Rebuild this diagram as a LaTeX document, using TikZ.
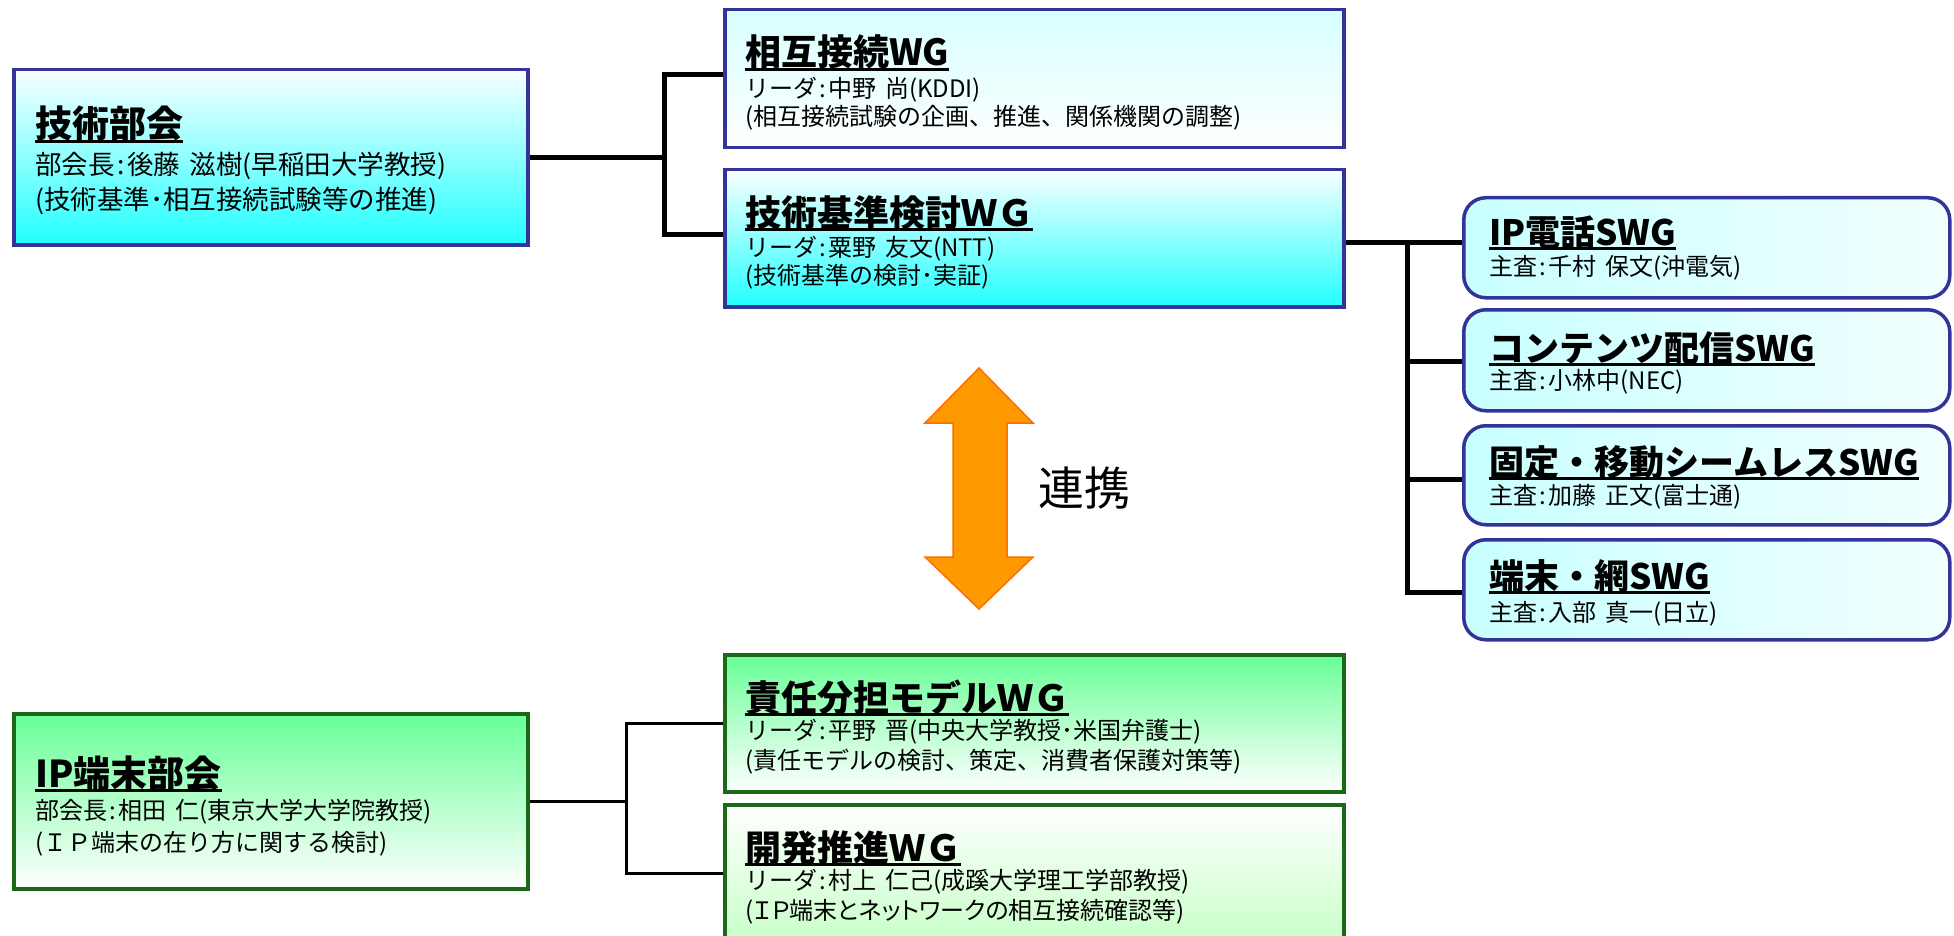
\documentclass[tikz,border=0pt]{standalone}
\usepackage{fontspec}
\newfontfamily\jp{Noto Sans CJK JP}
\newcommand\jcol{\hspace{.1em}:\hspace{.1em}}
\newcommand\jgap{\hspace{.35em}}
\definecolor{bordblue}{RGB}{51,51,153}
\definecolor{bordgreen}{RGB}{25,105,25}
\definecolor{cyanbot}{RGB}{34,255,255}
\definecolor{cyanmid}{RGB}{190,255,255}
\definecolor{cyantop}{RGB}{248,255,255}
\definecolor{cyanlight}{RGB}{215,255,255}
\definecolor{swgl}{RGB}{200,255,255}
\definecolor{swgr}{RGB}{242,255,255}
\definecolor{greentop}{RGB}{104,255,150}
\definecolor{greenmid}{RGB}{190,255,205}
\definecolor{greenlight}{RGB}{200,255,200}
\definecolor{arrfill}{RGB}{255,153,0}
\definecolor{arrline}{RGB}{255,110,0}
\tikzset{
  box/.style={rectangle, draw=bordblue, line width=3.5pt, inner sep=0pt, anchor=north west},
  cybox/.style={box, top color=cyantop, middle color=cyanmid, bottom color=cyanbot},
  lcybox/.style={box, top color=cyanlight, bottom color=white},
  gbox/.style={box, draw=bordgreen, top color=greentop, middle color=greenmid, bottom color=white},
  wgbox/.style={box, draw=bordgreen, top color=white, bottom color=greenlight},
  swgbox/.style={rectangle, draw=bordblue, line width=3.5pt, rounded corners=22pt, inner sep=0pt,
    anchor=north west, left color=swgl, right color=swgr, minimum width=486pt},
  ttlbase/.style={anchor=base west, inner sep=0pt},
  ttlA/.style={ttlbase, font=\jp\bfseries\fontsize{37}{40}\selectfont},
  ttl/.style={ttlbase, font=\jp\bfseries\fontsize{36}{40}\selectfont},
  ttlS/.style={ttlbase, font=\jp\bfseries\fontsize{35}{40}\selectfont},
  bodyA/.style={anchor=west, inner sep=0pt, font=\jp\fontsize{26.5}{30}\selectfont},
  body/.style={anchor=west, inner sep=0pt, font=\jp\fontsize{24}{28}\selectfont},
  uline/.style={line width=2.5pt},
  conn/.style={line width=5pt},
  connb/.style={line width=3.5pt},
}
\newcommand\uline[1]{\draw[uline] ([yshift=-3.5pt]#1.base west) -- ([yshift=-3.5pt]#1.base east);}
\begin{document}
\begin{tikzpicture}[x=1pt,y=-1pt]
\useasboundingbox (0,0) rectangle (1954,936);
\clip (0,0) rectangle (1954,936);
\fill[white] (0,0) rectangle (1954,936);
% boxes
\node[cybox, minimum width=514pt, minimum height=175pt] (A) at (12,68) {};
\node[lcybox, minimum width=619pt, minimum height=138pt] (B) at (723,8) {};
\node[cybox, minimum width=619pt, minimum height=137pt] (C) at (723,168) {};
\node[swgbox, minimum height=100pt] (S1) at (1462,196) {};
\node[swgbox, minimum height=101pt] (S2) at (1462,308) {};
\node[swgbox, minimum height=99pt] (S3) at (1462,424) {};
\node[swgbox, minimum height=100pt] (S4) at (1462,538) {};
\node[gbox, minimum width=514pt, minimum height=175pt] (D) at (12,712) {};
\node[gbox, minimum width=619pt, minimum height=137pt] (E) at (723,653) {};
\node[wgbox, minimum width=619pt, minimum height=137pt] (F) at (723,803) {};
% connectors top-left
\draw[conn] (A.east) -- ++(135,0) coordinate (jA);
\draw[conn] ([yshift=4pt]B.west) -| (jA) |- ([yshift=4pt]C.west);
% connectors right
\path ([yshift=-4.5pt]C.east) ++(62,0) coordinate (jC);
\draw[conn] ([yshift=-4.5pt]C.east) -- ([yshift=5pt]S1.west);
\coordinate (s2w) at ([yshift=-1.5pt]S2.west);
\coordinate (s3w) at ([yshift=-4pt]S3.west);
\coordinate (s4w) at ([yshift=-2.5pt]S4.west);
\draw[conn] (jC) |- (s4w);
\draw[conn] (jC |- s2w) -- (s2w);
\draw[conn] (jC |- s3w) -- (s3w);
% connectors bottom
\draw[connb] (D.east) -- ++(97,0) coordinate (jD);
\draw[connb] (E.west) -| (jD) |- (F.west);
% texts A
\node[ttlA] (tA) at (35,138) {技術部会}; \uline{tA}
\node[bodyA] (tA2) at (35,166) {部会長\jcol 後藤\jgap 滋樹(早稲田大学教授)};
\node[bodyA] (tA3) at (35,201) {(技術基準･相互接続試験等の推進)};
% B
\node[ttl] (tB) at (745,66) {相互接続WG}; \uline{tB}
\node[body] (tB2) at (745,90) {リーダ\jcol 中野\jgap 尚(KDDI)};
\node[body] (tB3) at (745,118) {(相互接続試験の企画、推進、関係機関の調整)};
% C
\node[ttl] (tC) at (745,226) {技術基準検討ＷＧ}; \uline{tC}
\node[body] (tC2) at (745,249) {リーダ\jcol 粟野\jgap 友文(NTT)};
\node[body] (tC3) at (745,277) {(技術基準の検討･実証)};
% SWG
\node[ttlS] (t1) at (1489,245) {IP電話SWG}; \uline{t1}
\node[body] (t12) at (1489,268) {主査\jcol 千村\jgap 保文(沖電気)};
\node[ttlS] (t2) at (1489,361) {コンテンツ配信SWG}; \uline{t2}
\node[body] (t22) at (1489,382) {主査\jcol 小林中(NEC)};
\node[ttlS] (t3) at (1489,475) {固定・移動シームレスSWG}; \uline{t3}
\node[body] (t32) at (1489,497) {主査\jcol 加藤\jgap 正文(富士通)};
\node[ttlS] (t4) at (1489,589) {端末・網SWG}; \uline{t4}
\node[body] (t42) at (1489,614) {主査\jcol 入部\jgap 真一(日立)};
% D
\node[ttlA] (tD) at (35,787) {IP端末部会}; \uline{tD}
\node[body] (tD2) at (35,812) {部会長\jcol 相田\jgap 仁(東京大学大学院教授)};
\node[body] (tD3) at (35,844) {(ＩＰ端末の在り方に関する検討)};
% E
\node[ttl] (tE) at (745,711) {責任分担モデルＷＧ}; \uline{tE}
\node[body] (tE2) at (745,732) {リーダ\jcol 平野\jgap 晋(中央大学教授･米国弁護士)};
\node[body] (tE3) at (745,762) {(責任モデルの検討、策定、消費者保護対策等)};
% F
\node[ttl] (tF) at (745,861) {開発推進ＷＧ}; \uline{tF}
\node[body] (tF2) at (745,882) {リーダ\jcol 村上\jgap 仁己(成蹊大学理工学部教授)};
\node[body] (tF3) at (745,912) {\addfontfeature{RawFeature=+palt}(ＩＰ端末とネットワークの相互接続確認等)};
% arrow
\filldraw[fill=arrfill, draw=arrline, line width=1.5pt, line join=miter]
  (979,368) -- (1033,423) -- (1007,423) -- (1007,557) -- (1033,557) -- (979,609)
  -- (925,557) -- (953,557) -- (953,423) -- (925,423) -- cycle;
\node[anchor=west, inner sep=0pt, font=\jp\fontsize{46}{50}\selectfont] (rk) at (1038,488) {連携};
\end{tikzpicture}
\end{document}
